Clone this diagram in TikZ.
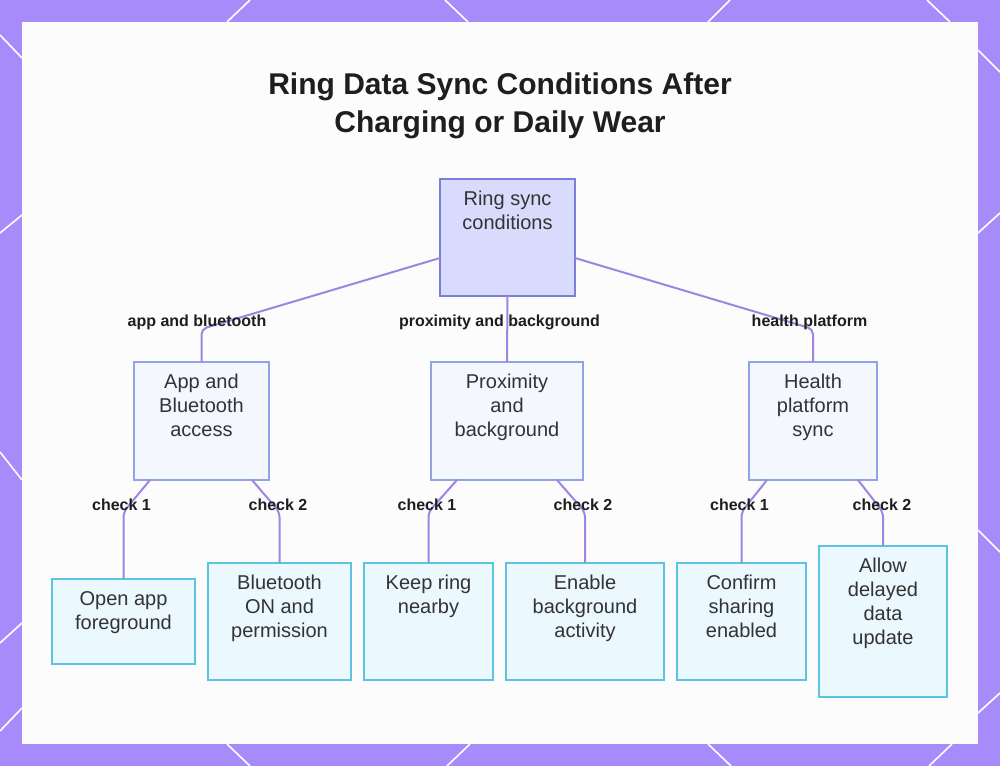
\documentclass[tikz,border=0pt]{standalone}
\usepackage{fontspec}
\setmainfont{Liberation Sans}
\definecolor{bgpurple}{HTML}{A78BFA}
\definecolor{panelcol}{HTML}{FCFCFC}
\definecolor{conncol}{HTML}{9F84E4}
\definecolor{rootfill}{HTML}{D8DBFC}
\definecolor{rootdraw}{HTML}{7A7FD8}
\definecolor{midfill}{HTML}{F5F7FF}
\definecolor{middraw}{HTML}{8EA4E4}
\definecolor{leaffill}{HTML}{EBF8FE}
\definecolor{leafdraw}{HTML}{5CC3E2}
\definecolor{txtcol}{HTML}{333333}
\definecolor{lblcol}{HTML}{1E1E1E}
\begin{document}
\begin{tikzpicture}[x=0.75pt,y=-0.75pt,
  boxsize/.style 2 args={minimum width=#1*0.75pt, minimum height=#2*0.75pt},
  basebox/.style={line width=1.5pt, inner sep=0pt, outer sep=0pt},
  rootbox/.style={basebox, draw=rootdraw, fill=rootfill},
  midbox/.style={basebox, draw=middraw, fill=midfill},
  leafbox/.style={basebox, draw=leafdraw, fill=leaffill},
  nodetext/.style={text=txtcol, font=\fontsize{15}{18}\selectfont, align=center, inner sep=0pt, anchor=north, yshift=-6.9pt},
  lbl/.style={text=lblcol, font=\fontsize{12}{14}\selectfont\bfseries, inner sep=0pt, anchor=base},
  conn/.style={draw=conncol, line width=1.5pt, rounded corners=4pt},
  deco/.style={draw=white, line width=1.2pt}
]
\useasboundingbox (0,0) rectangle (1000,766);
\fill[bgpurple] (0,0) rectangle (1000,766);
% decorative lines in the margin
\draw[deco] (250,0) -- (227,22);
\draw[deco] (445,0) -- (468,22);
\draw[deco] (730,0) -- (708,22);
\draw[deco] (927,0) -- (950,22);
\draw[deco] (227,744) -- (250,766);
\draw[deco] (470,744) -- (447,766);
\draw[deco] (708,744) -- (731,766);
\draw[deco] (952,744) -- (929,766);
\draw[deco] (0,35) -- (22,58);
\draw[deco] (0,233) -- (22,215);
\draw[deco] (0,452) -- (22,480);
\draw[deco] (0,643) -- (22,623);
\draw[deco] (0,731) -- (22,708);
\draw[deco] (978,50) -- (1000,72);
\draw[deco] (978,233) -- (1000,213);
\draw[deco] (978,530) -- (1000,552);
\draw[deco] (978,713) -- (1000,693);
% panel
\fill[panelcol] (22,22) rectangle (978,744);
% title
\node[text=lblcol, font=\fontsize{22.5}{28.5}\selectfont\bfseries, align=center, inner sep=0pt, anchor=north] (title) at (500,67.4)
  {\strut Ring Data Sync Conditions After\\Charging or Daily Wear};
% boxes
\node[rootbox, boxsize={135}{117}] (root) at (507.5,237.5) {};
\node[midbox, boxsize={135}{118}] (app) at (201.5,421) {};
\node[midbox, boxsize={152}{118}] (prox) at (507,421) {};
\node[midbox, boxsize={128}{118}] (health) at (813,421) {};
\node[leafbox, boxsize={143}{85}] (open) at (123.5,621.5) {};
\node[leafbox, boxsize={143}{117}] (bt) at (279.5,621.5) {};
\node[leafbox, boxsize={129}{117}] (keep) at (428.5,621.5) {};
\node[leafbox, boxsize={158}{117}] (enable) at (585,621.5) {};
\node[leafbox, boxsize={129}{117}] (confirm) at (741.5,621.5) {};
\node[leafbox, boxsize={128}{151}] (allow) at (883,621.5) {};
% connectors
\draw[conn] ([yshift=-15.375pt]root.west) -- ([yshift=24.75pt]app.north) -- (app.north);
\draw[conn] (root.south) -- (prox.north);
\draw[conn] ([yshift=-15.375pt]root.east) -- ([yshift=24.75pt]health.north) -- (health.north);
\draw[conn] ([xshift=-38.625pt]app.south) -- ([yshift=50.25pt]open.north) -- (open.north);
\draw[conn] ([xshift=37.875pt]app.south) -- ([yshift=38.25pt]bt.north) -- (bt.north);
\draw[conn] ([xshift=-37.5pt]prox.south) -- ([yshift=38.25pt]keep.north) -- (keep.north);
\draw[conn] ([xshift=37.5pt]prox.south) -- ([yshift=38.25pt]enable.north) -- (enable.north);
\draw[conn] ([xshift=-34.5pt]health.south) -- ([yshift=38.25pt]confirm.north) -- (confirm.north);
\draw[conn] ([xshift=33.75pt]health.south) -- ([yshift=25.5pt]allow.north) -- (allow.north);
% box texts
\node[nodetext] (troot) at (root.north) {\strut Ring sync\\conditions};
\node[nodetext] (tapp) at (app.north) {\strut App and\\Bluetooth\\access};
\node[nodetext] (tprox) at (prox.north) {\strut Proximity\\and\\background};
\node[nodetext] (thealth) at (health.north) {\strut Health\\platform\\sync};
\node[nodetext] (topen) at (open.north) {\strut Open app\\foreground};
\node[nodetext] (tbt) at (bt.north) {\strut Bluetooth\\ON and\\permission};
\node[nodetext] (tkeep) at (keep.north) {\strut Keep ring\\nearby};
\node[nodetext] (tenable) at (enable.north) {\strut Enable\\background\\activity};
\node[nodetext] (tconfirm) at (confirm.north) {\strut Confirm\\sharing\\enabled};
\node[nodetext] (tallow) at (allow.north) {\strut Allow\\delayed\\data\\update};
% edge labels
\node[lbl] (l1) at (197,327) {app and bluetooth};
\node[lbl] (l2) at (499.5,327) {proximity and background};
\node[lbl] (l3) at (809.5,327) {health platform};
\node[lbl] (c1) at (121.5,511) {check 1};
\node[lbl] (c2) at (278,511) {check 2};
\node[lbl] (c3) at (427,511) {check 1};
\node[lbl] (c4) at (583,511) {check 2};
\node[lbl] (c5) at (739.5,511) {check 1};
\node[lbl] (c6) at (882,511) {check 2};
\end{tikzpicture}
\end{document}
